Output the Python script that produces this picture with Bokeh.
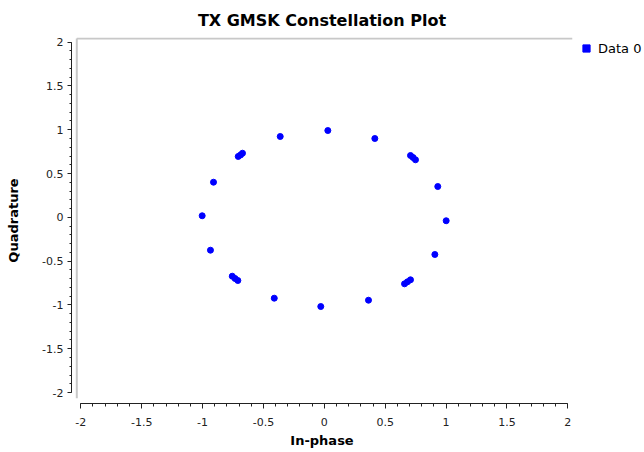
from bokeh.plotting import figure
from bokeh.models import (Range1d, SingleIntervalTicker, CustomJSTickFormatter,
                          Legend, LegendItem, ColumnDataSource)
from bokeh.embed import file_html
from bokeh.resources import INLINE

# ---- data ----
title_text = "TX GMSK Constellation Plot"
x_label = "In-phase"
y_label = "Quadrature"
series_name = "Data 0"

i_vals = [0.029, -0.362, 0.415,
          -0.707, -0.688, -0.672,
          0.708, 0.729, 0.749,
          -0.910, 0.932, -1.003, 1.001, -0.935, 0.908,
          -0.756, -0.733, -0.710,
          0.659, 0.683, 0.708,
          -0.411, -0.029, 0.363]
q_vals = [0.991, 0.923, 0.900,
          0.695, 0.712, 0.732,
          0.706, 0.683, 0.657,
          0.401, 0.352, 0.018, -0.039, -0.375, -0.424,
          -0.672, -0.698, -0.721,
          -0.759, -0.736, -0.713,
          -0.923, -1.018, -0.946]

axis_min, axis_max, tick_step, minor_per_major = -2, 2, 0.5, 5

# ---- layout ----
FRAME_W, FRAME_H = 501, 366
X_START, X_END = -2.0764, 2.0386
Y_START, Y_END = -2.125, 2.053
px_x = FRAME_W / (X_END - X_START)
px_y = FRAME_H / (Y_END - Y_START)

FONT = "DejaVu Sans"
BLUE = "#0000ff"

p = figure(frame_width=FRAME_W, frame_height=FRAME_H,
           output_backend="svg", toolbar_location=None,
           x_range=Range1d(X_START, X_END), y_range=Range1d(Y_START, Y_END),
           min_border_left=71, min_border_right=72, min_border_top=37,
           min_border_bottom=49, title=title_text)
p.outline_line_color = None
p.background_fill_color = "white"
p.border_fill_color = "white"
p.grid.visible = False

p.title.text_font = FONT
p.title.text_font_size = "16px"
p.title.text_font_style = "bold"
p.title.text_color = "#000000"
p.title.align = "center"
p.title.offset = 3
p.title.standoff = 16

fmt = CustomJSTickFormatter(code="return tick.toString();")
for ax in (p.xaxis[0], p.yaxis[0]):
    ax.ticker = SingleIntervalTicker(interval=tick_step, num_minor_ticks=minor_per_major)
    ax.formatter = fmt
    ax.bounds = (axis_min, axis_max)
    ax.axis_line_color = "#222222"
    ax.major_tick_line_color = "#222222"
    ax.minor_tick_line_color = "#222222"
    ax.major_tick_in = 0
    ax.minor_tick_in = 0
    ax.major_tick_out = 5
    ax.minor_tick_out = 3
    ax.major_label_text_font = FONT
    ax.major_label_text_font_size = "11px"
    ax.major_label_text_color = "#222222"
    ax.axis_label_text_font = FONT
    ax.axis_label_text_font_size = "13px"
    ax.axis_label_text_font_style = "bold"
    ax.axis_label_text_color = "#000000"

p.xaxis.axis_label = x_label
p.yaxis.axis_label = y_label
p.xaxis.major_label_standoff = 9
p.xaxis.axis_label_standoff = 4
p.yaxis.major_tick_out = 4
p.yaxis.minor_tick_out = 2
p.yaxis.major_label_standoff = 4
p.yaxis.axis_label_standoff = 18

# canvas border (light grey, top and left, inset from axes)
cl = X_START + 5.3 / px_x
ct = Y_END - 1.0 / px_y
cb = Y_START + 5.3 / px_y
p.segment(x0=[cl, cl], y0=[ct, ct], x1=[cl, X_END], y1=[cb, ct],
          line_color="#c8c8c8", line_width=2)

src = ColumnDataSource(dict(i=i_vals, q=q_vals))
p.scatter("i", "q", source=src, marker="circle", size=6,
          fill_color=BLUE, line_color=BLUE)

# hidden renderer only used to give the legend its square swatch
leg_r = p.scatter("i", "q", source=src, marker="square", size=6,
                  fill_color=BLUE, line_color=BLUE, visible=False)
legend = Legend(items=[LegendItem(label=series_name, renderers=[leg_r])],
                location="top_left", margin=2, padding=0, spacing=0,
                glyph_width=24, glyph_height=18, label_height=18,
                label_standoff=0, border_line_color=None,
                background_fill_alpha=0, label_text_font=FONT,
                label_text_font_size="13px", label_text_color="#000000")
p.add_layout(legend, "right")

open("out.html", "w").write(file_html(p, INLINE))
